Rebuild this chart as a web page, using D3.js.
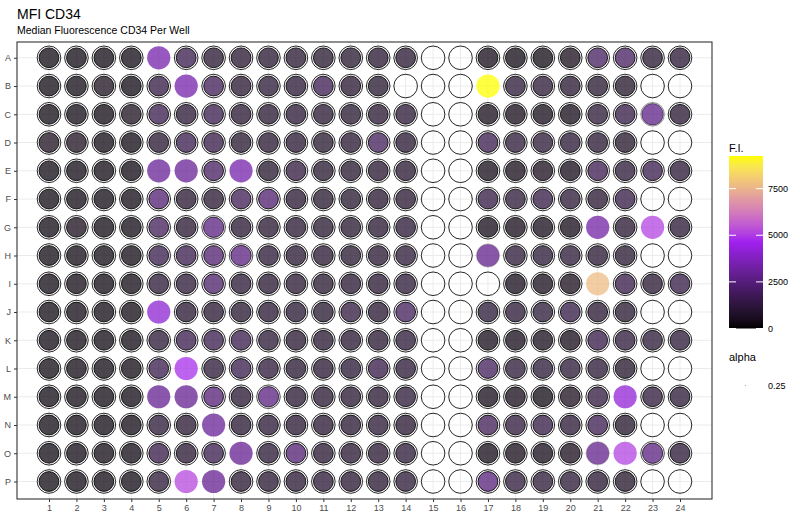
<!DOCTYPE html>
<html><head><meta charset="utf-8">
<script src="https://cdn.jsdelivr.net/npm/d3@7"></script>
<style>body{margin:0;background:#fff;} text{font-family:"Liberation Sans",Arial,sans-serif;}</style>
</head><body><svg id="c" width="800" height="520"></svg>
<script>
// ---- data ----
const rowLetters = ["A","B","C","D","E","F","G","H","I","J","K","L","M","N","O","P"];
const colNumbers = [1,2,3,4,5,6,7,8,9,10,11,12,13,14,15,16,17,18,19,20,21,22,23,24];
const rowA = [250,250,250,250,3400,1500,900,900,900,900,850,850,900,900,null,null,300,250,250,400,1900,1900,900,950];
const rowB = [250,250,500,200,1300,3400,1700,900,1000,950,1600,900,850,null,null,null,9250,1000,1000,900,850,700,null,null];
const rowC = [250,250,200,500,1500,950,1500,900,900,950,900,850,900,950,null,null,350,300,300,300,1000,1300,2700,900];
const rowD = [500,500,250,200,900,1500,1400,850,900,900,850,900,1800,900,null,null,1500,1000,1000,950,900,700,null,null];
const rowE = [250,250,250,200,3000,3000,1900,3400,850,1200,850,850,900,900,null,null,350,300,400,300,1600,1000,1500,950];
const rowF = [250,250,250,250,2300,900,900,1700,2200,900,850,850,900,900,null,null,1300,1000,1300,1000,900,1300,null,null];
const rowG = [250,400,250,250,1800,900,2600,900,900,900,850,850,900,950,null,null,300,300,350,300,3300,900,5100,950];
const rowH = [250,250,250,250,1500,1500,2200,2600,950,900,900,900,900,1000,null,null,2800,1000,950,1000,900,900,null,null];
const rowI = [250,250,200,250,1000,1000,2100,950,900,900,850,900,900,1000,null,null,null,300,350,400,7700,1400,900,1300];
const rowJ = [250,250,250,250,4100,900,900,900,900,900,850,1200,900,1800,null,null,1000,950,1000,1300,900,850,null,null];
const rowK = [250,250,250,250,1000,1500,1500,1500,1000,900,900,900,900,1000,null,null,350,300,350,300,1400,1100,1000,1000];
const rowL = [250,250,250,250,1500,4800,1000,1500,1100,900,900,950,1400,950,null,null,1800,1000,1000,1000,950,700,null,null];
const rowM = [250,250,250,250,2900,2900,2400,900,2600,900,900,900,900,1000,null,null,350,300,250,500,1200,4200,1100,1000];
const rowN = [250,250,250,250,1000,900,3000,900,950,900,900,900,950,900,null,null,1700,1100,1300,950,1600,700,null,null];
const rowO = [250,250,250,250,1400,900,1500,2900,950,2300,900,900,900,1000,null,null,300,300,300,400,2800,5100,2600,950];
const rowP = [250,250,250,250,1000,5200,2900,900,900,900,950,900,900,1000,null,null,2500,1100,1000,1000,900,700,null,null];
const legendTicks = [0,2500,5000,7500];
const alphaLabel = "0.25";

const rowValues = [rowA,rowB,rowC,rowD,rowE,rowF,rowG,rowH,rowI,rowJ,rowK,rowL,rowM,rowN,rowO,rowP];
const wells = [];
rowValues.forEach((vals,i)=>vals.forEach((v,j)=>wells.push({row:rowLetters[i],col:colNumbers[j],v:v})));

// ---- layout ----
const svg = d3.select("#c");
const panel = {l:17, r:712, t:42, b:499};
const x = d3.scalePoint().domain(colNumbers).range([49,680]);
const y = d3.scalePoint().domain(rowLetters).range([57.8,481.5]);
const fiMax = 9250;
const color = d3.scaleLinear().domain([0,fiMax/2,fiMax]).range(["#000000","#A020F0","#FFFF00"]).interpolate(d3.interpolateLab).clamp(true);
// how strongly a bright fill hides the well rings
const cover = d3.scaleLinear().domain([2550,2850]).range([0,1]).clamp(true);

svg.append("text").attr("x",17).attr("y",19).attr("font-size",14).attr("fill","#000").text("MFI CD34");
svg.append("text").attr("x",17).attr("y",34).attr("font-size",10.5).attr("fill","#000").text("Median Fluorescence CD34 Per Well");

// grid
const g = svg.append("g");
g.selectAll(".vg").data(colNumbers).join("line").attr("x1",d=>x(d)).attr("x2",d=>x(d)).attr("y1",panel.t).attr("y2",panel.b).attr("stroke","#ebebeb").attr("stroke-width",1);
g.selectAll(".hg").data(rowLetters).join("line").attr("y1",d=>y(d)).attr("y2",d=>y(d)).attr("x1",panel.l).attr("x2",panel.r).attr("stroke","#ebebeb").attr("stroke-width",1);

// wells
const wg = svg.append("g");
wg.selectAll(".outer").data(wells).join("circle").attr("cx",d=>x(d.col)).attr("cy",d=>y(d.row)).attr("r",11.8)
  .attr("fill","none").attr("stroke","#000").attr("stroke-width",0.85)
  .attr("stroke-opacity",d=>d.v===null?1:1-cover(d.v));
const filled = wells.filter(d=>d.v!==null);
wg.selectAll(".inner").data(filled).join("circle").attr("cx",d=>x(d.col)).attr("cy",d=>y(d.row))
  .attr("r",d=>9.9+1.7*cover(d.v))
  .attr("fill",d=>color(d.v)).attr("fill-opacity",0.745)
  .attr("stroke","#000").attr("stroke-width",0.85).attr("stroke-opacity",d=>1-cover(d.v));

// panel border
svg.append("rect").attr("x",panel.l).attr("y",panel.t).attr("width",panel.r-panel.l).attr("height",panel.b-panel.t).attr("fill","none").attr("stroke","#333").attr("stroke-width",1.1);

// axes
const xa = svg.append("g").attr("transform",`translate(0,${panel.b})`).call(d3.axisBottom(x).tickSize(3).tickPadding(3));
const ya = svg.append("g").attr("transform",`translate(${panel.l},0)`).call(d3.axisLeft(y).tickSize(3).tickPadding(3));
[xa,ya].forEach(a=>{a.select(".domain").remove();a.selectAll("line").attr("stroke","#333");a.selectAll("text").attr("fill","#4d4d4d").attr("font-size",9).attr("font-family","Liberation Sans, Arial, sans-serif");});

// colour legend
const lg = svg.append("g");
lg.append("text").attr("x",729).attr("y",152).attr("font-size",11).text("F.I.");
const defs = svg.append("defs");
const grad = defs.append("linearGradient").attr("id","fig").attr("x1",0).attr("y1",1).attr("x2",0).attr("y2",0);
d3.range(0,1.0001,0.05).forEach(t=>grad.append("stop").attr("offset",t).attr("stop-color",color(t*fiMax)));
const ly = d3.scaleLinear().domain([0,fiMax]).range([328.5,156]);
lg.append("rect").attr("x",729).attr("y",156).attr("width",34).attr("height",172.5).attr("fill","url(#fig)");
legendTicks.forEach(t=>{
  lg.append("line").attr("x1",729).attr("x2",736).attr("y1",ly(t)).attr("y2",ly(t)).attr("stroke","#fff").attr("stroke-width",1);
  lg.append("line").attr("x1",756).attr("x2",763).attr("y1",ly(t)).attr("y2",ly(t)).attr("stroke","#fff").attr("stroke-width",1);
  lg.append("text").attr("x",768).attr("y",ly(t)).attr("dy","0.35em").attr("font-size",9).attr("fill","#000").text(t);
});
lg.append("text").attr("x",729).attr("y",361).attr("font-size",11).text("alpha");
lg.append("circle").attr("cx",745.5).attr("cy",385.5).attr("r",0.6).attr("fill","#000").attr("fill-opacity",0.4);
lg.append("text").attr("x",768).attr("y",385.5).attr("dy","0.35em").attr("font-size",9).text(alphaLabel);
</script></body></html>
